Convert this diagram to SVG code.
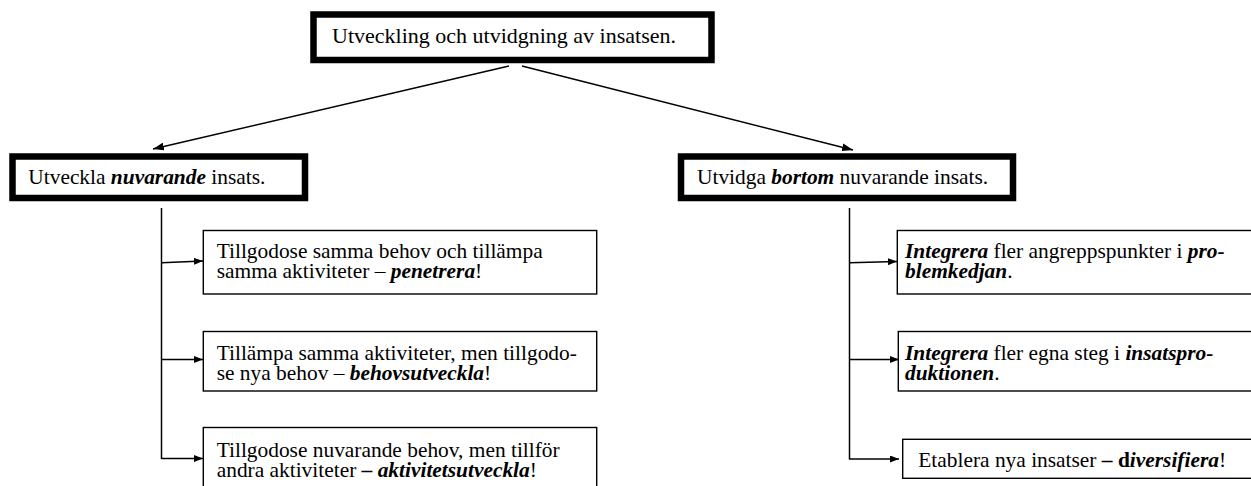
<svg xmlns="http://www.w3.org/2000/svg" width="1251" height="486" viewBox="0 0 1251 486">
<style>
text{font-family:"Liberation Serif","Times New Roman",serif;font-size:21.4px;fill:#000}
.bi{font-weight:bold;font-style:italic}
.b{font-weight:bold}
.thick{fill:#fff;stroke:#000;stroke-width:6.5}
.thin{fill:#fff;stroke:#000;stroke-width:1.4}
.con{fill:none;stroke:#000;stroke-width:1.5}
</style>
<defs>
<marker id="ah" viewBox="0 0 11 8" refX="11" refY="4" markerWidth="11" markerHeight="8" markerUnits="userSpaceOnUse" orient="auto">
<path d="M0,0 L11,4 L0,8 Z" fill="#000"/>
</marker>
<marker id="ahs" viewBox="0 0 9 7" refX="9" refY="3.5" markerWidth="9" markerHeight="7" markerUnits="userSpaceOnUse" orient="auto">
<path d="M0,0 L9,3.5 L0,7 Z" fill="#000"/>
</marker>
</defs>
<g id="connectors">
<line class="con" x1="509" y1="66" x2="153" y2="149" marker-end="url(#ah)"/>
<line class="con" x1="522" y1="66" x2="853" y2="150" marker-end="url(#ah)"/>
<line class="con" x1="161.5" y1="208" x2="161.5" y2="459"/>
<line class="con" x1="161.5" y1="262.7" x2="203" y2="261" marker-end="url(#ahs)"/>
<line class="con" x1="161.5" y1="359.5" x2="203" y2="359.5" marker-end="url(#ahs)"/>
<line class="con" x1="161.5" y1="458.5" x2="203" y2="458.5" marker-end="url(#ahs)"/>
<line class="con" x1="849.5" y1="208" x2="849.5" y2="459.5"/>
<line class="con" x1="849.5" y1="262.7" x2="897" y2="261.5" marker-end="url(#ahs)"/>
<line class="con" x1="849.5" y1="359.5" x2="899" y2="359.5" marker-end="url(#ahs)"/>
<line class="con" x1="849.5" y1="459" x2="899" y2="459" marker-end="url(#ahs)"/>
</g>
<g id="top">
<rect class="thick" x="313.5" y="14.5" width="398" height="45.5"/>
<text x="332" y="43.3" style="font-size:22px">Utveckling och utvidgning av insatsen.</text>
</g>
<g id="left">
<rect class="thick" x="12.5" y="156.5" width="292.5" height="41.5"/>
<text x="28.3" y="184">Utveckla <tspan class="bi">nuvarande</tspan> insats.</text>
</g>
<g id="right">
<rect class="thick" x="681" y="156.5" width="332" height="41.5"/>
<text x="697" y="184">Utvidga <tspan class="bi">bortom</tspan> nuvarande insats.</text>
</g>
<g id="left1">
<rect class="thin" x="203.3" y="230.5" width="393.4" height="63.5"/>
<text x="216.7" y="258.3">Tillgodose samma behov och tillämpa<tspan x="216.7" dy="20">samma aktiviteter – </tspan><tspan class="bi">penetrera</tspan>!</text>
</g>
<g id="left2">
<rect class="thin" x="203.3" y="331.5" width="393.4" height="59.5"/>
<text x="216.7" y="359.8">Tillämpa samma aktiviteter, men tillgodo-<tspan x="216.7" dy="20">se nya behov – </tspan><tspan class="bi">behovsutveckla</tspan>!</text>
</g>
<g id="left3">
<rect class="thin" x="203.3" y="427.5" width="393.4" height="70"/>
<text x="216.7" y="456.7">Tillgodose nuvarande behov, men tillför<tspan x="216.7" dy="20">andra aktiviteter </tspan><tspan class="b">–</tspan> <tspan class="bi">aktivitetsutveckla</tspan>!</text>
</g>
<g id="right1">
<rect class="thin" x="897.3" y="230.5" width="380" height="63.5"/>
<text x="905" y="258.3"><tspan class="bi">Integrera</tspan> fler angreppspunkter i <tspan class="bi">pro-</tspan><tspan class="bi" x="905" dy="20">blemkedjan</tspan>.</text>
</g>
<g id="right2">
<rect class="thin" x="898.3" y="331.5" width="380" height="59.5"/>
<text x="905" y="359.8"><tspan class="bi">Integrera</tspan> fler egna steg i <tspan class="bi">insatspro-</tspan><tspan class="bi" x="905" dy="20">duktionen</tspan>.</text>
</g>
<g id="right3">
<rect class="thin" x="902.7" y="439.3" width="380" height="39"/>
<text x="918.3" y="466.7">Etablera nya insatser <tspan class="b">–</tspan> <tspan class="b">d</tspan><tspan class="bi">iversifiera</tspan>!</text>
</g>
</svg>
